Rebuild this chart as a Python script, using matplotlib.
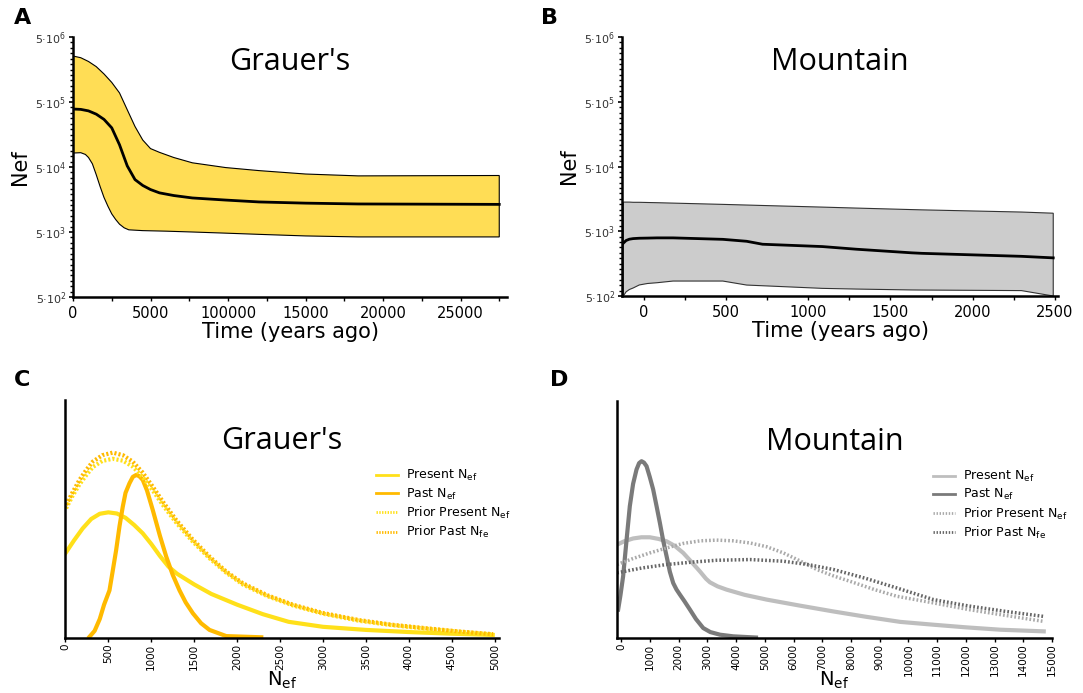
import numpy as np
import matplotlib.pyplot as plt
from matplotlib.ticker import FixedLocator, NullFormatter

## Data
# A: Grauer's, Nef through time (median and interval)
a_time = [0, 500, 1000, 1500, 2000, 2500, 3000, 3500, 4000, 4500, 5000, 5580, 6500,
          7700, 9850, 12000, 15000, 18400, 27500]
a_median = [3.9e5, 3.85e5, 3.65e5, 3.25e5, 2.7e5, 2.0e5, 1.1e5, 5.2e4, 3.2e4, 2.6e4, 2.25e4,
            2.0e4, 1.82e4, 1.67e4, 1.55e4, 1.45e4, 1.39e4, 1.35e4, 1.33e4]
a_upper = [2.55e6, 2.4e6, 2.1e6, 1.75e6, 1.35e6, 1.0e6, 6.9e5, 3.8e5, 2.1e5, 1.3e5, 9.6e4,
           8.4e4, 7.0e4, 5.8e4, 4.9e4, 4.4e4, 3.9e4, 3.65e4, 3.7e4]
a_low_time = [0, 500, 800, 1000, 1250, 1500, 1750, 2000, 2250, 2500, 2750, 3000, 3300, 3600,
              4500, 6000, 7700, 9850, 12000, 15000, 18400, 27500]
a_lower = [8.2e4, 8.3e4, 7.8e4, 7.0e4, 5.6e4, 3.8e4, 2.5e4, 1.7e4, 1.25e4, 9.5e3, 7.8e3,
           6.6e3, 5.8e3, 5.4e3, 5.25e3, 5.15e3, 5.0e3, 4.8e3, 4.6e3, 4.35e3, 4.2e3, 4.2e3]

# B: Mountain, Nef through time
b_time = [-127, -110, -90, -67, -30, 20, 79, 176, 479, 624, 721, 1085, 1291, 1630, 1691, 2297, 2491]
b_median = [3.27e3, 3.6e3, 3.77e3, 3.85e3, 3.9e3, 3.92e3, 3.95e3, 3.95e3, 3.75e3, 3.5e3, 3.15e3,
            2.9e3, 2.64e3, 2.32e3, 2.28e3, 2.05e3, 1.94e3]
b_upper = [1.41e4, 1.41e4, 1.41e4, 1.40e4, 1.40e4, 1.39e4, 1.38e4, 1.36e4, 1.30e4, 1.27e4,
           1.25e4, 1.18e4, 1.14e4, 1.08e4, 1.07e4, 9.9e3, 9.5e3]
b_lower = [500, 580, 630, 665, 740, 780, 802, 851, 851, 738, 720, 656, 640, 620, 618, 606, 500]

# C: Grauer's, density of Nef
c_pres_n = [0, 100, 200, 300, 400, 500, 600, 700, 800, 900, 1000, 1100, 1200, 1300, 1500,
            1700, 2000, 2300, 2600, 3000, 3500, 4000, 4500, 4977]
c_pres_d = [0.356, 0.41, 0.46, 0.50, 0.522, 0.528, 0.523, 0.505, 0.475, 0.44, 0.395, 0.345,
            0.30, 0.27, 0.225, 0.185, 0.14, 0.10, 0.068, 0.047, 0.034, 0.025, 0.018, 0.013]
c_past_n = [280, 340, 400, 450, 513, 550, 591, 630, 668, 700, 746, 785, 824, 860, 901, 950,
            1017, 1100, 1174, 1250, 1329, 1400, 1484, 1580, 1678, 1873, 2281]
c_past_d = [0.005, 0.03, 0.08, 0.14, 0.2, 0.28, 0.37, 0.47, 0.552, 0.61, 0.65, 0.677, 0.685,
            0.68, 0.664, 0.62, 0.538, 0.43, 0.342, 0.265, 0.2, 0.15, 0.104, 0.062, 0.034, 0.008, 0.003]
c_prior_n = [8, 80, 163, 240, 318, 430, 551, 670, 784, 900, 1017, 1150, 1290, 1480, 1678,
             1870, 2066, 2350, 2649, 3000, 3427, 3800, 4204, 4600, 4981]
c_prior_pres_d = [0.545, 0.595, 0.645, 0.683, 0.718, 0.744, 0.753, 0.745, 0.72, 0.676, 0.62,
                  0.551, 0.485, 0.406, 0.335, 0.275, 0.225, 0.176, 0.137, 0.102, 0.072, 0.054,
                  0.039, 0.026, 0.015]
c_prior_past_d = [0.559, 0.61, 0.664, 0.705, 0.741, 0.768, 0.779, 0.768, 0.741, 0.695, 0.636,
                  0.565, 0.496, 0.415, 0.342, 0.28, 0.23, 0.18, 0.14, 0.105, 0.075, 0.056,
                  0.041, 0.027, 0.016]

# D: Mountain, density of Nef
d_pres_n = [-146, 100, 412, 700, 994, 1300, 1577, 1870, 2156, 2450, 2738, 2950, 3087, 3350,
            3669, 4300, 5064, 6200, 7388, 8500, 9714, 10875, 12000, 13200, 14712]
d_pres_d = [0.394, 0.408, 0.42, 0.425, 0.425, 0.418, 0.408, 0.388, 0.359, 0.32, 0.281, 0.25,
            0.235, 0.218, 0.204, 0.182, 0.162, 0.137, 0.112, 0.09, 0.068, 0.056, 0.045, 0.035, 0.028]
d_past_n = [-110, -30, 63, 180, 296, 410, 530, 620, 705, 790, 879, 990, 1109, 1230, 1343,
            1460, 1577, 1690, 1807, 1920, 2041, 2200, 2389, 2600, 2853, 3100, 3436, 3900, 4367, 4690]
d_past_d = [0.12, 0.18, 0.26, 0.41, 0.556, 0.65, 0.711, 0.738, 0.746, 0.74, 0.725, 0.68, 0.627,
            0.555, 0.486, 0.41, 0.345, 0.28, 0.232, 0.205, 0.183, 0.155, 0.12, 0.08, 0.042,
            0.025, 0.014, 0.007, 0.004, 0.002]
d_prior_pres_n = [-146, 400, 994, 1577, 2156, 2750, 3320, 3900, 4482, 5064, 5644, 6230, 6808,
                  7390, 7970, 8800, 9599, 10875, 12100, 13400, 14712]
d_prior_pres_d = [0.31, 0.335, 0.359, 0.38, 0.399, 0.41, 0.413, 0.41, 0.401, 0.385, 0.359,
                  0.325, 0.289, 0.262, 0.239, 0.205, 0.176, 0.148, 0.12, 0.095, 0.07]
d_prior_past_n = [-146, 700, 1577, 2450, 3320, 4482, 5644, 6500, 7388, 8500, 9599, 10875,
                  12100, 13400, 14712]
d_prior_past_d = [0.275, 0.295, 0.31, 0.32, 0.328, 0.331, 0.324, 0.31, 0.289, 0.252, 0.211,
                  0.162, 0.135, 0.112, 0.091]

yellow = '#FFE01A'
orange = '#FFBA00'
light_grey = '#BEBEBE'
dark_grey = '#7A7A7A'

fig = plt.figure(figsize=(10.83, 6.93), dpi=100)
W, H = 1083, 693

def add_ax(l, t, r, b):
    ax = fig.add_axes([l / W, 1 - b / H, (r - l) / W, (b - t) / H])
    for s in ['top', 'right']:
        ax.spines[s].set_visible(False)
    for s in ['left', 'bottom']:
        ax.spines[s].set_linewidth(1.8)
    return ax

## Top panels: log Nef through time
yt = [5e2, 5e3, 5e4, 5e5, 5e6]
ytl = ['5·10$^{2}$', '5·10$^{3}$', '5·10$^{4}$', '5·10$^{5}$', '5·10$^{6}$']
minor = [5 * 10.0 ** (e + k / 12) for e in range(2, 6) for k in range(1, 12)]

def time_axis(ax, title):
    ax.set_yscale('log')
    ax.set_ylim(5e2, 5e6)
    ax.set_yticks(yt)
    ax.set_yticklabels(ytl, fontsize=8, color='#333333')
    ax.yaxis.set_minor_locator(FixedLocator(minor))
    ax.yaxis.set_minor_formatter(NullFormatter())
    ax.tick_params(axis='y', which='major', length=3, width=1.2, pad=2)
    ax.tick_params(axis='y', which='minor', length=2, width=1.0)
    ax.tick_params(axis='x', which='both', length=3, width=1, labelsize=10.5)
    ax.set_ylabel('Nef', fontsize=15, labelpad=4)
    ax.set_xlabel('Time (years ago)', fontsize=15, labelpad=1)
    ax.set_title(title, fontsize=22, y=0.84, fontfamily='Open Sans')

def band(ax, t_up, up, t_low, low, fill, edge):
    # interval drawn as one closed outline: upper edge, then lower edge backwards
    xs = list(t_up) + list(t_low[::-1])
    ys = list(up) + list(low[::-1])
    ax.fill(xs, ys, facecolor=fill, edgecolor=edge, lw=0.8, zorder=1)

axA = add_ax(73, 37, 507, 297)
band(axA, a_time, a_upper, a_low_time, a_lower, '#FFDD55', 'black')
axA.plot(a_time, a_median, color='black', lw=2)
axA.set_xlim(0, 28000)
axA.set_xticks([0, 5000, 10000, 15000, 20000, 25000])
axA.set_xticklabels(['0', '5000', '100000', '15000', '20000', '25000'])
axA.set_xticks(np.arange(2500, 28000, 5000), minor=True)
time_axis(axA, "Grauer's")

axB = add_ax(622, 37, 1058, 296)
band(axB, b_time, b_upper, b_time, b_lower, '#CCCCCC', '#333333')
axB.plot(b_time, b_median, color='black', lw=2)
axB.set_xlim(-135, 2520)
axB.set_xticks([0, 500, 1000, 1500, 2000, 2500])
axB.set_xticks(np.arange(250, 2500, 500), minor=True)
time_axis(axB, 'Mountain')

## Bottom panels: densities
def dens_axis(ax, title, xmin, xmax, step, anchor_x):
    ax.set_xlim(xmin, xmax)
    ax.set_ylim(0, 1)
    ax.set_yticks([])
    ax.set_xticks(np.arange(0, xmax + 1, step))
    ax.tick_params(axis='x', length=3, width=1, labelsize=7.5, labelrotation=90, pad=1)
    ax.set_xlabel('N$_{\\mathrm{ef}}$', fontsize=14)
    ax.xaxis.set_label_coords(0.5, -0.135)
    ax.set_title(title, fontsize=22, y=0.76, fontfamily='Open Sans')
    leg = ax.legend(loc='upper left', bbox_to_anchor=(anchor_x, 0.76), frameon=False,
                    fontsize=9, handlelength=1.8, labelspacing=0.25, handletextpad=0.6)
    for line in leg.get_lines():
        line.set_linewidth(2)

axC = add_ax(65, 400, 499, 638)
axC.plot(c_pres_n, c_pres_d, color=yellow, lw=3, label='Present N$_{\\mathrm{ef}}$')
axC.plot(c_past_n, c_past_d, color=orange, lw=3, label='Past N$_{\\mathrm{ef}}$')
axC.plot(c_prior_n, c_prior_pres_d, color=yellow, lw=3, ls=(0, (0.5, 0.5)),
         label='Prior Present N$_{\\mathrm{ef}}$')
axC.plot(c_prior_n, c_prior_past_d, color=orange, lw=3, ls=(0, (0.5, 0.5)),
         label='Prior Past N$_{\\mathrm{fe}}$')
dens_axis(axC, "Grauer's", -5, 5050, 500, 0.69)

axD = add_ax(617, 401, 1052, 638)
axD.plot(d_pres_n, d_pres_d, color=light_grey, lw=3, label='Present N$_{\\mathrm{ef}}$')
axD.plot(d_past_n, d_past_d, color=dark_grey, lw=3, label='Past N$_{\\mathrm{ef}}$')
axD.plot(d_prior_pres_n, d_prior_pres_d, color='#AAAAAA', lw=2.5, ls=(0, (0.5, 0.6)),
         label='Prior Present N$_{\\mathrm{ef}}$')
axD.plot(d_prior_past_n, d_prior_past_d, color='#666666', lw=2.5, ls=(0, (0.5, 0.6)),
         label='Prior Past N$_{\\mathrm{fe}}$')
dens_axis(axD, 'Mountain', -150, 15000, 1000, 0.70)

## Panel letters
for lab, x, y in [('A', 14, 8), ('B', 541, 8), ('C', 14, 370), ('D', 550, 370)]:
    fig.text(x / W, 1 - y / H, lab, fontsize=16, fontweight='bold', va='top')

fig.savefig('out.png', dpi=100)
